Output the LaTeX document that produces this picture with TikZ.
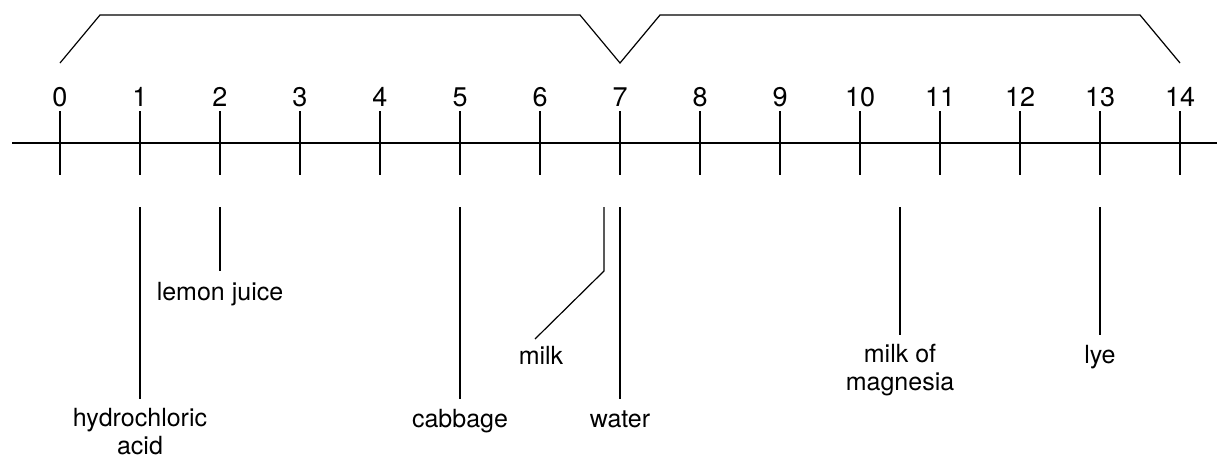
\documentclass[tikz,border=0pt]{standalone}
\usepackage{fontspec}
\setmainfont{TeX Gyre Heros}
\begin{document}
\begin{tikzpicture}[x=1pt,y=-1pt,line width=1.2pt,
  lbl/.style={font=\fontsize{25}{28}\selectfont,inner sep=0pt,anchor=base,align=center},
  num/.style={lbl,font=\fontsize{27}{30}\selectfont},
  rule/.style={draw=black,line cap=butt,line join=miter}]
\useasboundingbox (0,0) rectangle (1217,458);
% pH axis
\coordinate (axisL) at (12,143);
\coordinate (axisR) at (1217,143);
\draw[rule] (axisL) -- (axisR);
\foreach \i in {0,...,14}{
  \coordinate (t\i top) at (60+80*\i,111);
  \coordinate (t\i bot) at (60+80*\i,175);
  \draw[rule] (t\i top) -- (t\i bot);
  \node[num] (n\i) at (60+80*\i,106) {\i};
}
% acid / base brace
\coordinate (b0) at (60,63);
\coordinate (b1) at (100,15);
\coordinate (b2) at (580,15);
\coordinate (b3) at (620,63);
\coordinate (b4) at (660,15);
\coordinate (b5) at (1140,15);
\coordinate (b6) at (1180,63);
\draw[rule] (b0) -- (b1) -- (b2) -- (b3) -- (b4) -- (b5) -- (b6);
% substances (two-line labels are placed by their last baseline)
\coordinate (hclT) at (140,207); \coordinate (hclB) at (140,399);
\node[lbl] (hcl) at (140,454) {hydrochloric\\acid};
\draw[rule] (hclT) -- (hclB);
\coordinate (lemT) at (220,207); \coordinate (lemB) at (220,271);
\node[lbl] (lem) at (220,300) {lemon juice};
\draw[rule] (lemT) -- (lemB);
\coordinate (cabT) at (460,207); \coordinate (cabB) at (460,399);
\node[lbl] (cab) at (460,427) {cabbage};
\draw[rule] (cabT) -- (cabB);
\coordinate (milkT) at (604,207); \coordinate (milkK) at (604,271); \coordinate (milkB) at (535,339);
\node[lbl] (milk) at (541,364) {milk};
\draw[rule] (milkT) -- (milkK) -- (milkB);
\coordinate (watT) at (620,207); \coordinate (watB) at (620,399);
\node[lbl] (wat) at (620,427) {water};
\draw[rule] (watT) -- (watB);
\coordinate (momT) at (900,207); \coordinate (momB) at (900,335);
\node[lbl] (mom) at (900,390) {milk of\\magnesia};
\draw[rule] (momT) -- (momB);
\coordinate (lyeT) at (1100,207); \coordinate (lyeB) at (1100,335);
\node[lbl] (lye) at (1100,363) {lye};
\draw[rule] (lyeT) -- (lyeB);
\end{tikzpicture}
\end{document}
